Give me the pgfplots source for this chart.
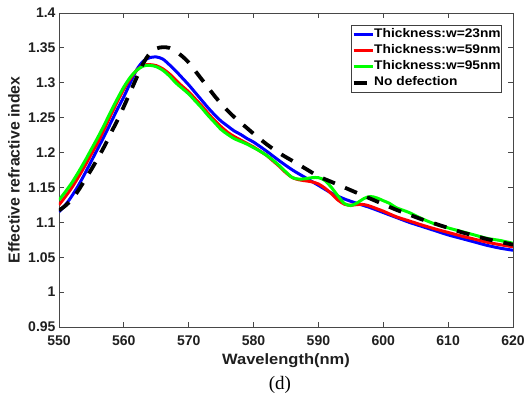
\documentclass[border=0pt]{standalone}
\usepackage{fontspec}
\setmainfont{Liberation Sans}
\newfontfamily\stretchfont[FakeStretch=1.1]{Liberation Sans}
\newfontfamily\capfont{Liberation Serif}
\usepackage{pgfplots}
\usepackage{pgfplotstable}
\pgfplotsset{compat=1.18}

\pgfplotstableread{
x y
550 1.115
551 1.125
552 1.138
553 1.153
554 1.170
555 1.188
556 1.206
557 1.224
558 1.243
559 1.262
560 1.280
561 1.300
562 1.319
563 1.331
564 1.336
565 1.337
566 1.334
567 1.326
568 1.317
569 1.307
570 1.297
571 1.286
572 1.275
573 1.264
574 1.254
575 1.245
576 1.238
577 1.231
578 1.226
579 1.220
580 1.215
582 1.202
584 1.188
586 1.175
588 1.164
590 1.153
592 1.142
594 1.1335
596 1.127
598 1.121
600 1.114
602 1.107
604 1.100
606 1.094
608 1.088
610 1.082
612 1.077
614 1.072
616 1.067
618 1.063
620 1.060
}\tblue

\pgfplotstableread{
x y
550 1.125
551 1.137
552 1.150
553 1.165
554 1.181
555 1.198
556 1.215
557 1.234
558 1.254
559 1.273
560 1.291
561 1.306
562 1.318
563 1.325
564 1.326
565 1.3245
566 1.320
567 1.313
568 1.304
569 1.295
570 1.287
571 1.277
572 1.267
573 1.256
574 1.246
575 1.237
576 1.229
577 1.223
578 1.218
579 1.213
580 1.208
581 1.202
582 1.196
583 1.188
584 1.180
585 1.171
586 1.164
587 1.161
588 1.1595
589 1.158
590 1.155
591 1.149
592 1.141
593 1.132
594 1.126
595 1.1245
596 1.1255
597 1.1255
598 1.123
599 1.1195
600 1.116
602 1.108
604 1.102
606 1.096
608 1.0905
610 1.0855
612 1.0805
614 1.076
616 1.0715
618 1.068
620 1.065
}\tred

\pgfplotstableread{
x y
550 1.132
551 1.144
552 1.157
553 1.172
554 1.188
555 1.205
556 1.222
557 1.240
558 1.259
559 1.277
560 1.294
561 1.308
562 1.318
563 1.324
564 1.325
565 1.323
566 1.318
567 1.310
568 1.300
569 1.292
570 1.284
571 1.274
572 1.264
573 1.253
574 1.243
575 1.233
576 1.226
577 1.220
578 1.216
579 1.212
580 1.207
581 1.202
582 1.196
583 1.189
584 1.181
585 1.172
586 1.164
587 1.162
588 1.1625
589 1.164
590 1.164
591 1.160
592 1.150
593 1.138
594 1.127
595 1.124
596 1.128
597 1.134
598 1.137
599 1.135
600 1.131
601 1.127
602 1.121
604 1.114
606 1.105
608 1.0975
610 1.092
612 1.087
614 1.082
616 1.077
618 1.074
620 1.070
}\tgreen

\pgfplotstableread{
x y
550 1.117
551 1.124
552 1.133
553 1.146
554 1.161
555 1.176
556 1.192
557 1.209
558 1.228
559 1.246
560 1.266
561 1.287
562 1.308
563 1.328
564 1.342
565 1.349
566 1.351
567 1.350
568 1.345
569 1.338
570 1.329
571 1.317
572 1.305
573 1.293
574 1.281
575 1.270
576 1.260
577 1.251
578 1.243
579 1.235
580 1.227
582 1.212
584 1.199
586 1.188
588 1.177
590 1.166
592 1.158
594 1.150
596 1.142
598 1.134
600 1.126
602 1.118
604 1.111
606 1.104
608 1.098
610 1.092
612 1.086
614 1.081
616 1.076
618 1.072
620 1.068
}\tblack

\begin{document}
\begin{tikzpicture}
\begin{axis}[
  name=ax,
  scale only axis,
  width=454pt, height=314pt,
  xmin=550, xmax=620, ymin=0.95, ymax=1.4,
  xtick={550,560,570,580,590,600,610,620},
  ytick={0.95,1,1.05,1.1,1.15,1.2,1.25,1.3,1.35,1.4},
  tick align=inside,
  major tick length=5pt,
  axis line style={draw=black!72, line width=0.8pt},
  tick style={draw=black!72, line width=0.8pt},
  /pgf/number format/assume math mode=true,
  ticklabel style={font=\fontsize{14}{16}\selectfont\bfseries, text=black!88},
  xticklabel style={yshift=-5pt},
  xlabel={Wavelength(nm)},
  xlabel style={font=\stretchfont\fontsize{15}{17}\selectfont\bfseries, text=black!88,
    at={(axis description cs:0.5,-0.121)}, anchor=base},
  ylabel={Effective refractive index},
  ylabel style={font=\fontsize{15.8}{17}\selectfont\bfseries, text=black!88,
    at={(axis description cs:-0.099,0.5)}, anchor=center},
  legend style={at={(axis description cs:0.9758,0.9618)}, anchor=north east,
    draw=black!75, line width=0.6pt,
    font=\stretchfont\fontsize{12.5}{14}\selectfont\bfseries,
    inner xsep=1pt, inner ysep=3.5pt, row sep=4pt,
    nodes={inner sep=0pt, text height=9pt, text depth=3pt},
    /tikz/every even column/.append style={column sep=4pt}},
  legend cell align=left,
  legend image code/.code={\draw[#1] (0pt,0pt) -- (19pt,0pt);},
]
\addplot[blue, line width=3pt, smooth] table {\tblue};
\addlegendentry{Thickness:w=23nm}
\addplot[red, line width=3pt, smooth] table {\tred};
\addlegendentry{Thickness:w=59nm}
\addplot[green, line width=3pt, smooth] table {\tgreen};
\addlegendentry{Thickness:w=95nm}
\addplot[black, line width=3.8pt, dash pattern=on 13pt off 11pt, smooth,
  legend image code/.code={\draw[black, line width=3.8pt] (0pt,0pt) -- (16pt,0pt);}] table {\tblack};
\addlegendentry{No defection}
\end{axis}
\node[font=\capfont\fontsize{19}{21}\selectfont] at ([xshift=-6pt,yshift=-58pt]ax.south) {(d)};
\pgfresetboundingbox
\path[use as bounding box] (-59pt,-68pt) rectangle (468pt,327pt);
\end{tikzpicture}
\end{document}
